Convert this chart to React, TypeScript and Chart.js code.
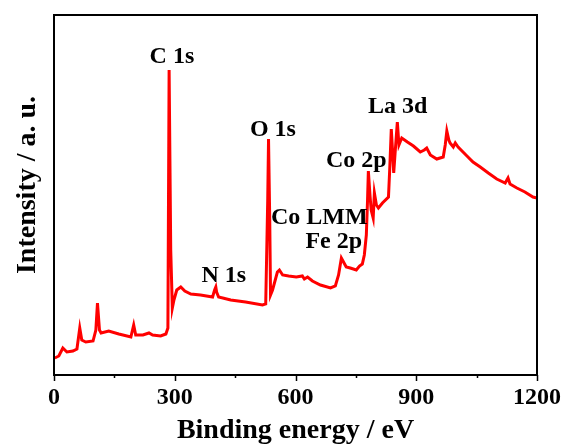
import React, { useEffect, useRef } from "react";
import { Chart, registerables } from "chart.js";

Chart.register(...registerables);

// Binding energy (eV) and intensity (a.u.)
const energy = [
  2, 12, 22, 32, 47, 57, 64, 69, 79, 97, 104, 108, 113, 117, 136, 161, 191, 198, 203, 221,
  236, 245, 265, 278, 283, 286, 290, 294, 298, 305, 315, 325, 340, 364, 394, 399, 402, 404, 409, 439,
  476, 518, 526, 531, 533, 536, 538, 543, 555, 560, 568, 583, 602, 617, 622, 630, 642, 662, 687, 699,
  707, 714, 722, 726, 736, 751, 759, 766, 771, 776, 779, 781, 785, 788, 793, 796, 801, 806, 816, 831,
  834, 838, 841, 844, 848, 853, 857, 864, 878, 893, 910, 920, 926, 935, 951, 967, 972, 976, 981, 984,
  992, 997, 1004, 1026, 1041, 1059, 1079, 1100, 1121, 1128, 1133, 1150, 1170, 1190, 1200,
];
const intensity = [
  17, 19, 27, 23, 24, 26, 47, 35, 33, 34, 45, 72, 45, 42, 44, 41, 38, 50, 40, 40,
  42, 40, 39, 41, 47, 305, 125, 67, 75, 85, 88, 84, 81, 80, 78, 85, 88, 83, 78, 75,
  73, 70, 71, 175, 236, 155, 80, 85, 103, 105, 100, 99, 98, 99, 96, 98, 94, 90, 87, 89,
  100, 117, 111, 108, 107, 105, 109, 111, 120, 140, 175, 204, 180, 165, 157, 182, 170, 167, 172, 178,
  205, 246, 225, 202, 225, 253, 230, 237, 233, 229, 223, 225, 227, 220, 216, 218, 230, 244, 235, 232,
  228, 232, 228, 219, 213, 208, 202, 196, 192, 197, 191, 187, 183, 178, 177,
];

// Peak annotations (text, energy position, intensity position of baseline)
const peakLabels = ["C 1s", "N 1s", "O 1s", "Co LMM", "Fe 2p", "Co 2p", "La 3d"];
const peakLabelX = [293, 422, 544, 659, 695, 751, 854];
const peakLabelY = [312, 93, 239, 151, 127, 208, 262];

const xTickValues = [0, 300, 600, 900, 1200];
const xMinorTickValues = [150, 450, 750, 1050];
const xTitle = "Binding energy / eV";
const yTitle = "Intensity / a. u.";

const FONT = "'Liberation Serif', 'Times New Roman', serif";

const decorPlugin = {
  id: "decor",
  afterDraw(chart: any) {
    const { ctx, chartArea } = chart;
    const xs = chart.scales.x;
    const ys = chart.scales.y;
    const { left, right, top, bottom } = chartArea;
    ctx.save();
    // frame
    ctx.strokeStyle = "#000";
    ctx.lineWidth = 2;
    ctx.strokeRect(left, top, right - left, bottom - top);
    // ticks
    ctx.lineWidth = 1.5;
    ctx.beginPath();
    for (const v of xTickValues) {
      const px = Math.round(xs.getPixelForValue(v)) + 0.5;
      ctx.moveTo(px, bottom);
      ctx.lineTo(px, bottom + 6);
    }
    for (const v of xMinorTickValues) {
      const px = Math.round(xs.getPixelForValue(v)) + 0.5;
      ctx.moveTo(px, bottom);
      ctx.lineTo(px, bottom + 3);
    }
    ctx.stroke();
    // peak labels
    ctx.fillStyle = "#000";
    ctx.font = `bold 24px ${FONT}`;
    ctx.textAlign = "center";
    ctx.textBaseline = "alphabetic";
    peakLabels.forEach((t, i) => {
      ctx.fillText(t, xs.getPixelForValue(peakLabelX[i]), ys.getPixelForValue(peakLabelY[i]));
    });
    // y title
    ctx.font = `bold 28px ${FONT}`;
    ctx.textBaseline = "middle";
    ctx.translate(28, 185);
    ctx.rotate(-Math.PI / 2);
    ctx.fillText(yTitle, 0, 0);
    ctx.restore();
  },
};

export default function App() {
  const ref = useRef<HTMLCanvasElement | null>(null);
  useEffect(() => {
    document.body.style.margin = "0";
    const canvas = ref.current!;
    const chart = new Chart(canvas, {
      type: "line",
      data: {
        datasets: [
          {
            data: energy.map((e, i) => ({ x: e, y: intensity[i] })),
            borderColor: "#ff0000",
            borderWidth: 3,
            pointRadius: 0,
            tension: 0,
            fill: false,
          },
        ],
      },
      options: {
        responsive: false,
        animation: false,
        layout: { padding: { left: 54, right: 26, top: 15, bottom: 0 } },
        plugins: { legend: { display: false }, tooltip: { enabled: false } },
        scales: {
          x: {
            type: "linear",
            min: 0,
            max: 1200,
            afterBuildTicks: (scale: any) => {
              scale.ticks = xTickValues.map((v) => ({ value: v }));
            },
            afterFit: (scale: any) => {
              scale.height = 73;
              scale.paddingLeft = 0;
              scale.paddingRight = 0;
            },
            grid: { display: false, drawTicks: false },
            border: { display: false },
            ticks: {
              color: "#000",
              font: { family: FONT, size: 24, weight: "bold" },
              padding: 8,
              maxRotation: 0,
              autoSkip: false,
              callback: (v: any) => String(v),
            },
            title: {
              display: true,
              text: xTitle,
              color: "#000",
              font: { family: FONT, size: 28, weight: "bold" },
              padding: { top: 0, bottom: 0 },
            },
          },
          y: {
            display: false,
            min: 0,
            max: 360,
          },
        },
      },
      plugins: [decorPlugin],
    });
    return () => chart.destroy();
  }, []);
  return (
    <div style={{ width: 563, height: 448 }}>
      <canvas ref={ref} width={563} height={448} />
    </div>
  );
}
